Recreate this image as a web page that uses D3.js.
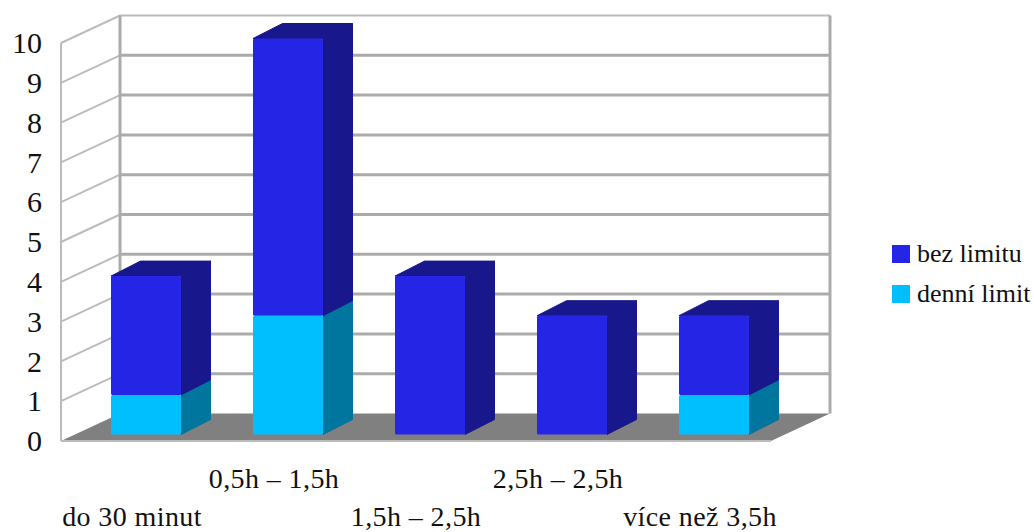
<!DOCTYPE html>
<html>
<head>
<meta charset="utf-8">
<script src="https://cdn.jsdelivr.net/npm/d3@7"></script>
<style>
  html, body { margin: 0; padding: 0; background: #fff; }
  svg { display: block; }
  text { font-family: "Liberation Serif", serif; fill: #111; }
</style>
</head>
<body>
<svg id="chart" width="1034" height="532"></svg>
<script>
const categories = ["do 30 minut", "0,5h – 1,5h", "1,5h – 2,5h", "2,5h – 2,5h", "více než 3,5h"];
const dailyLimit = [1, 3, 0, 0, 1];
const noLimit = [3, 7, 4, 3, 2];
const seriesNames = ["bez limitu", "denní limit"];
const tickValues = d3.range(0, 11);

const faceColors = { daily: "#00bfff", none: "#2525e6" };
const sideColors = { daily: "#00759e", none: "#18188c" };
const floorColor = "#808080";

// Oblique projection: how far the back wall and the bars recede
const wallShift = { x: 59, y: -27.5 };
const barInsetX = 14;
const barDepth = { x: 29.5, y: -15 };

const svg = d3.select("#chart");
const y = d3.scaleLinear().domain([0, 10]).range([441, 43]);
const yBar = d3.scaleLinear().domain([0, 10]).range([434.5, 38.5]);
const x = d3.scaleBand().domain(categories).range([61, 771]).paddingInner(0.507).paddingOuter(0.2535);

const stacks = categories.map((c, i) => ({
  category: c,
  parts: [
    { key: "daily", from: 0, to: dailyLimit[i] },
    { key: "none", from: dailyLimit[i], to: dailyLimit[i] + noLimit[i] }
  ].filter(p => p.to > p.from)
}));

// Walls and gridlines
const x0 = x.range()[0], x1 = x.range()[1];
const wall = svg.append("g").attr("fill", "none");
wall.append("polygon")
  .attr("points", [[x0, y(0)], [x1, y(0)], [x1 + wallShift.x, y(0) + wallShift.y], [x0 + wallShift.x, y(0) + wallShift.y]].map(String).join(" "))
  .attr("fill", floorColor);

tickValues.filter(v => v > 0).forEach(v => {
  wall.append("line")
    .attr("x1", x0).attr("y1", y(v))
    .attr("x2", x0 + wallShift.x).attr("y2", y(v) + wallShift.y)
    .attr("stroke", "#bcbcbc").attr("stroke-width", 2);
  wall.append("line")
    .attr("x1", x0 + wallShift.x).attr("y1", y(v) + wallShift.y)
    .attr("x2", x1 + wallShift.x).attr("y2", y(v) + wallShift.y)
    .attr("stroke", v === 10 ? "#bcbcbc" : "#ababab").attr("stroke-width", v === 10 ? 2 : 3);
});
wall.append("line")
  .attr("x1", x0).attr("y1", y(0)).attr("x2", x0).attr("y2", y(10))
  .attr("stroke", "#bcbcbc").attr("stroke-width", 2);
[x0 + wallShift.x, x1 + wallShift.x].forEach(px => {
  wall.append("line")
    .attr("x1", px).attr("y1", y(0) + wallShift.y).attr("x2", px).attr("y2", y(10) + wallShift.y)
    .attr("stroke", "#ababab").attr("stroke-width", 3);
});
wall.append("line")
  .attr("x1", x0).attr("y1", y(0)).attr("x2", x1).attr("y2", y(0))
  .attr("stroke", "#bcbcbc").attr("stroke-width", 2);

// Stacked blocks: side face, top face, then front face
const path = pts => "M" + pts.map(p => p.join(",")).join("L") + "Z";
const blocks = svg.append("g");
stacks.forEach(stack => {
  const left = x(stack.category) + barInsetX;
  const right = left + x.bandwidth();
  const g = blocks.append("g");
  stack.parts.forEach((part, i) => {
    const top = yBar(part.to);
    const bottom = yBar(part.from);
    g.append("path")
      .attr("d", path([[right, top], [right + barDepth.x, top + barDepth.y], [right + barDepth.x, bottom + barDepth.y], [right, bottom]]))
      .attr("fill", sideColors[part.key]).attr("stroke", sideColors[part.key]).attr("stroke-linejoin", "round");
    if (i === stack.parts.length - 1) {
      g.append("path")
        .attr("d", path([[left, top], [left + barDepth.x, top + barDepth.y], [right + barDepth.x, top + barDepth.y], [right, top]]))
        .attr("fill", sideColors[part.key]).attr("stroke", sideColors[part.key]).attr("stroke-linejoin", "round");
    }
    g.append("rect")
      .attr("x", left).attr("y", top)
      .attr("width", x.bandwidth()).attr("height", bottom - top)
      .attr("rx", 1.5)
      .attr("fill", faceColors[part.key]);
  });
});

// Value axis
const axis = svg.append("g")
  .attr("transform", "translate(42,0)")
  .call(d3.axisLeft(y).tickValues(tickValues).tickSize(0).tickPadding(0).tickFormat(d3.format("d")));
axis.select(".domain").remove();
axis.selectAll("text").style("font-size", "30px").style("font-family", "Liberation Serif").attr("fill", "#111");

// Category labels alternate between two rows
svg.append("g").selectAll("text").data(categories).join("text")
  .attr("x", d => x(d) + x.bandwidth() / 2)
  .attr("y", (d, i) => i % 2 ? 488 : 526)
  .attr("text-anchor", "middle")
  .attr("font-size", 28)
  .attr("letter-spacing", 0.4)
  .text(d => d);

// Legend
const legend = svg.append("g").selectAll("g").data(seriesNames).join("g")
  .attr("transform", (d, i) => `translate(892,${245 + i * 40})`);
legend.append("rect").attr("width", 18).attr("height", 18)
  .attr("fill", (d, i) => i === 0 ? faceColors.none : faceColors.daily);
legend.append("text").attr("x", 25).attr("y", 17).attr("font-size", 26).text(d => d);
</script>
</body>
</html>
